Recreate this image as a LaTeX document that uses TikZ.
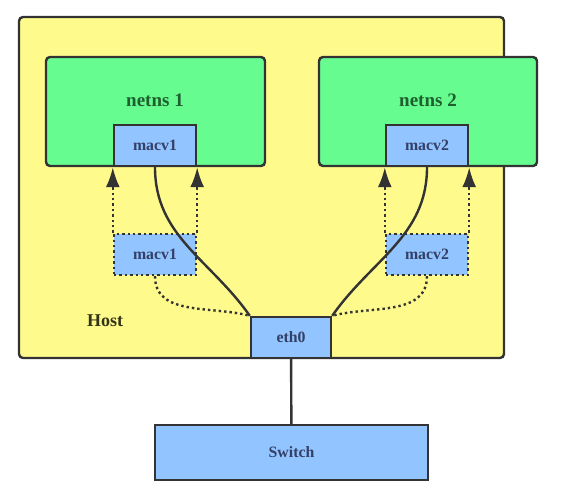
\documentclass[tikz,border=0pt]{standalone}
\usepackage{fontspec}
\setmainfont{Liberation Serif}
\usetikzlibrary{arrows.meta}
\definecolor{hostfill}{HTML}{FEFA8C}
\definecolor{nsfill}{HTML}{66FC90}
\definecolor{iffill}{HTML}{92C4FF}
\definecolor{edge}{HTML}{333333}
\definecolor{nstext}{HTML}{1F5F2F}
\definecolor{iftext}{HTML}{333F66}
\definecolor{hosttext}{HTML}{333318}
\tikzset{
  box/.style={draw=edge, line width=2.4pt, inner sep=0pt},
  hostbox/.style={box, fill=hostfill, rounded corners=4pt},
  nsbox/.style={box, fill=nsfill, rounded corners=4pt},
  nslabel/.style={text=nstext, font=\fontsize{19}{22}\selectfont\bfseries},
  ifbox/.style={box, fill=iffill, text=iftext,
    font=\fontsize{15.8}{18}\selectfont\bfseries},
  dotbox/.style={ifbox, dash pattern=on 2.4pt off 3pt},
  dotline/.style={draw=edge, line width=2.4pt, dash pattern=on 2.4pt off 3pt},
  wire/.style={draw=edge, line width=2.4pt},
  tip/.style={-{Latex[length=20pt, width=14pt]}},
}
\begin{document}
\begin{tikzpicture}[x=1pt, y=-1pt]
      \useasboundingbox (0,0) rectangle (585,503);
      \draw
        (261.5,187.5) node[hostbox, minimum width=485, minimum height=341] (host){}
        (155.5,111.5) node[nsbox, minimum width=219, minimum height=109] (ns1){}
        (428,111.5) node[nsbox, minimum width=218, minimum height=109] (ns2){}
        (155,100) node[nslabel] (ns1l){netns 1}
        (428,100) node[nslabel] (ns2l){netns 2}
        (155,145.5) node[ifbox, minimum width=82, minimum height=41] (mv1){macv1}
        (427,145.5) node[ifbox, minimum width=82, minimum height=41] (mv2){macv2}
        (155,254.5) node[dotbox, minimum width=82, minimum height=41] (mv1d){macv1}
        (427,254.5) node[dotbox, minimum width=82, minimum height=41] (mv2d){macv2}
        (291,337.5) node[ifbox, minimum width=80, minimum height=41] (eth0){eth0}
        (291.5,452.5) node[ifbox, minimum width=273, minimum height=55] (sw){Switch}
        (105,321) node[text=hosttext, font=\fontsize{18}{21}\selectfont\bfseries] (hostl){Host};
      \begin{scope}
        \draw[dotline, tip] (mv1d.north west) to (mv1.south west);
        \draw[dotline, tip] (mv1d.north east) to (mv1.south east);
        \draw[dotline, tip] (mv2d.north west) to (mv2.south west);
        \draw[dotline, tip] (mv2d.north east) to (mv2.south east);
      \end{scope}
      \begin{scope}[-]
        \draw[wire] (mv1.south) to[out=-90, in=125] (eth0.north west);
        \draw[wire] (mv2.south) to[out=-90, in=55] (eth0.north east);
        \draw[dotline] (mv1d.south) to[out=-90, in=165] (eth0.north west);
        \draw[dotline] (mv2d.south) to[out=-90, in=15] (eth0.north east);
        \draw[wire] (eth0) to (sw);
      \end{scope}
\end{tikzpicture}
\end{document}
